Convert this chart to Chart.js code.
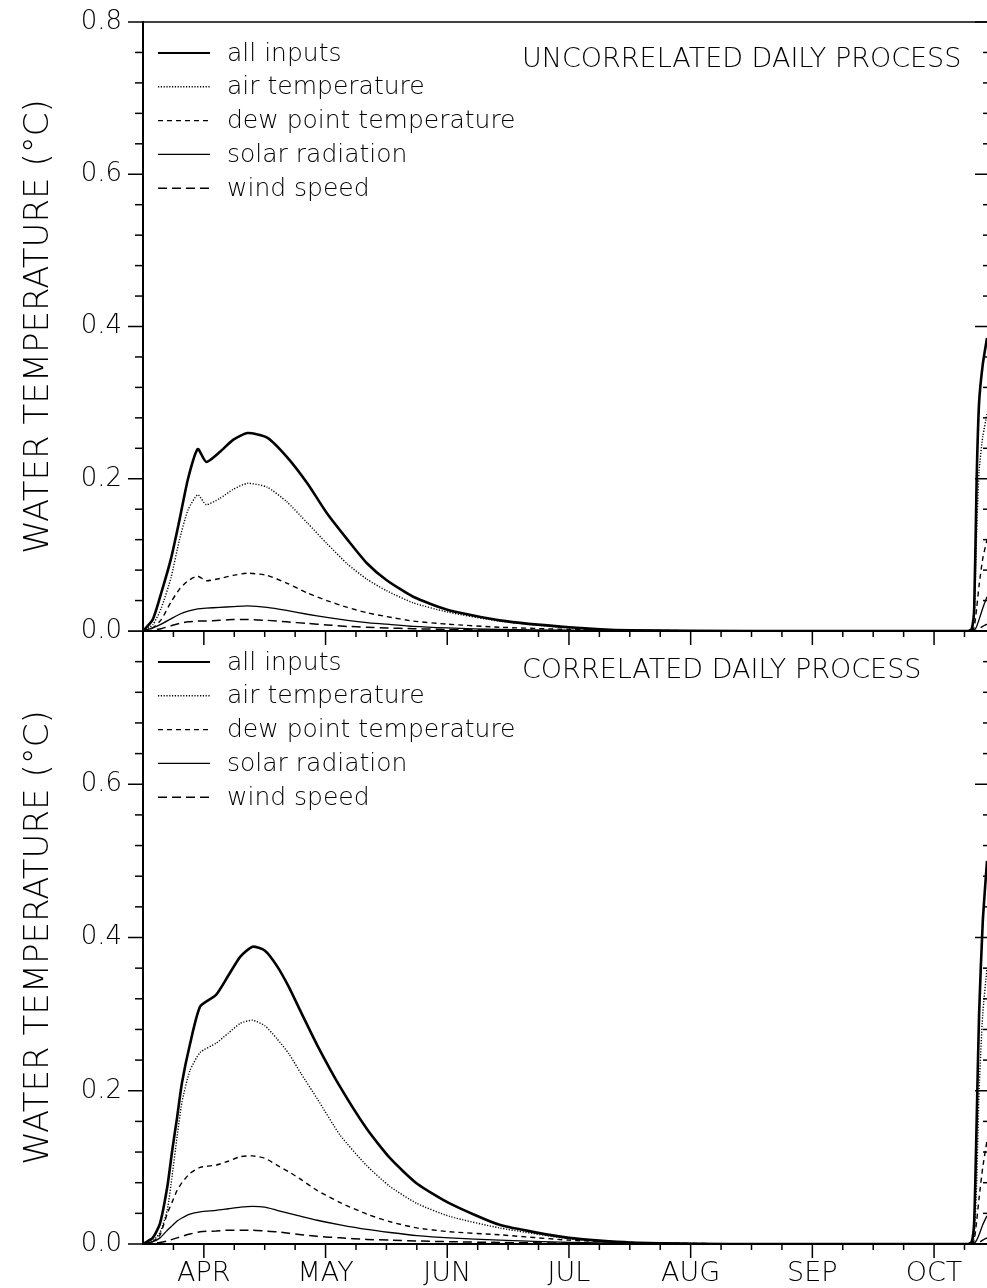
<!DOCTYPE html>
<html>
<head>
<meta charset="utf-8">
<script src="https://cdn.jsdelivr.net/npm/chart.js@4.4.1/dist/chart.umd.min.js"></script>
<style>
html, body { margin: 0; padding: 0; background: #fff; overflow: hidden; }
#wrap { position: relative; width: 987px; height: 1288px; }
.panel { position: absolute; left: 0; width: 987px; }
#top { top: 0; height: 660px; }
#bot { top: 631px; height: 657px; }
</style>
</head>
<body>
<div id="wrap">
  <div class="panel" id="top"><canvas id="chartTop"></canvas></div>
  <div class="panel" id="bot"><canvas id="chartBot"></canvas></div>
</div>
<script>
// x is in months, 0 = APR tick
const monthLabels = ['APR', 'MAY', 'JUN', 'JUL', 'AUG', 'SEP', 'OCT'];
const monthPos = [0, 1, 2, 3, 4, 5, 6];
const yTicksTop = [0, 0.2, 0.4, 0.6, 0.8];
const yTicksBot = [0, 0.2, 0.4, 0.6];
const seriesNames = ['all inputs', 'air temperature', 'dew point temperature', 'solar radiation', 'wind speed'];

// uncorrelated daily process
const xUncorr = [-0.5, -0.42, -0.35, -0.27, -0.2, -0.13, -0.05, 0.02, 0.13, 0.24, 0.36, 0.52, 0.68, 0.85, 1.01, 1.18, 1.34, 1.5, 1.72, 2.0, 2.43, 3.0, 3.5, 4.5, 5.5, 6.28, 6.31, 6.33, 6.35, 6.37, 6.40, 6.435];
const uncAll = [0, 0.015, 0.05, 0.095, 0.146, 0.20, 0.239, 0.222, 0.235, 0.251, 0.260, 0.254, 0.229, 0.194, 0.155, 0.120, 0.089, 0.067, 0.045, 0.028, 0.014, 0.005, 0.001, 0, 0, 0, 0.003, 0.03, 0.20, 0.30, 0.35, 0.385];
const uncAir = [0, 0.008, 0.03, 0.07, 0.12, 0.159, 0.179, 0.166, 0.174, 0.186, 0.194, 0.189, 0.170, 0.142, 0.115, 0.088, 0.068, 0.053, 0.037, 0.025, 0.013, 0.004, 0.001, 0, 0, 0, 0.001, 0.02, 0.13, 0.21, 0.255, 0.285];
const uncDew = [0, 0.004, 0.015, 0.038, 0.055, 0.066, 0.072, 0.066, 0.069, 0.073, 0.076, 0.073, 0.063, 0.050, 0.040, 0.031, 0.024, 0.019, 0.013, 0.009, 0.005, 0.002, 0.001, 0, 0, 0, 0, 0.005, 0.03, 0.06, 0.095, 0.12];
const uncSolar = [0, 0.004, 0.009, 0.016, 0.022, 0.026, 0.029, 0.030, 0.031, 0.032, 0.033, 0.031, 0.027, 0.022, 0.018, 0.014, 0.011, 0.009, 0.006, 0.004, 0.002, 0.001, 0, 0, 0, 0, 0, 0.001, 0.006, 0.015, 0.03, 0.045];
const uncWind = [0, 0.001, 0.003, 0.007, 0.010, 0.012, 0.013, 0.013, 0.014, 0.015, 0.015, 0.014, 0.012, 0.010, 0.008, 0.006, 0.005, 0.004, 0.003, 0.002, 0.001, 0, 0, 0, 0, 0, 0, 0, 0.001, 0.003, 0.006, 0.009];

// correlated daily process
const xCorr = [-0.5, -0.42, -0.36, -0.3, -0.26, -0.22, -0.18, -0.115, -0.03, 0.1, 0.2, 0.3, 0.4, 0.5, 0.6, 0.7, 0.8, 0.93, 1.12, 1.34, 1.53, 1.75, 2.02, 2.43, 3.0, 3.5, 4.5, 5.5, 6.28, 6.31, 6.33, 6.35, 6.37, 6.40, 6.435];
const corAll = [0, 0.008, 0.027, 0.075, 0.122, 0.165, 0.21, 0.26, 0.31, 0.325, 0.35, 0.375, 0.388, 0.383, 0.363, 0.335, 0.302, 0.26, 0.205, 0.15, 0.112, 0.079, 0.053, 0.025, 0.008, 0.002, 0, 0, 0, 0.003, 0.03, 0.16, 0.30, 0.42, 0.50];
const corAir = [0, 0.004, 0.015, 0.045, 0.09, 0.14, 0.185, 0.226, 0.25, 0.262, 0.275, 0.288, 0.292, 0.285, 0.268, 0.248, 0.222, 0.19, 0.142, 0.102, 0.075, 0.053, 0.036, 0.021, 0.007, 0.002, 0, 0, 0, 0.001, 0.01, 0.08, 0.20, 0.30, 0.36];
const corDew = [0, 0.003, 0.012, 0.04, 0.055, 0.07, 0.08, 0.092, 0.10, 0.103, 0.108, 0.114, 0.115, 0.112, 0.103, 0.094, 0.084, 0.07, 0.054, 0.039, 0.029, 0.021, 0.016, 0.012, 0.005, 0.002, 0, 0, 0, 0, 0.005, 0.03, 0.06, 0.10, 0.135];
const corSolar = [0, 0.003, 0.008, 0.018, 0.024, 0.03, 0.034, 0.039, 0.042, 0.044, 0.046, 0.048, 0.049, 0.048, 0.044, 0.040, 0.036, 0.031, 0.025, 0.019, 0.015, 0.011, 0.008, 0.005, 0.002, 0.001, 0, 0, 0, 0, 0.001, 0.005, 0.012, 0.025, 0.037];
const corWind = [0, 0.001, 0.002, 0.004, 0.006, 0.008, 0.010, 0.013, 0.016, 0.017, 0.018, 0.018, 0.018, 0.017, 0.016, 0.014, 0.012, 0.010, 0.008, 0.006, 0.005, 0.004, 0.003, 0.002, 0.001, 0, 0, 0, 0, 0, 0, 0, 0.002, 0.005, 0.008];

const lineStyles = [
    { borderWidth: 2.6, borderDash: [] },
    { borderWidth: 1.4, borderDash: [1.2, 1.6] },
    { borderWidth: 1.4, borderDash: [5, 4] },
    { borderWidth: 1.3, borderDash: [] },
    { borderWidth: 1.5, borderDash: [9, 5] }
];

Chart.defaults.font.family = '"DejaVu Sans", sans-serif';
Chart.defaults.font.weight = 200;
Chart.defaults.color = '#000';

function line(ctx, x1, y1, x2, y2, w) {
    ctx.lineWidth = w; ctx.beginPath(); ctx.moveTo(x1, y1); ctx.lineTo(x2, y2); ctx.stroke();
}

// axes frame, minor ticks, legend and panel title
const framePlugin = {
    id: 'frame',
    afterDraw(chart, args, o) {
        const { ctx, chartArea: a, scales: { x, y } } = chart;
        ctx.save();
        ctx.strokeStyle = '#000'; ctx.setLineDash([]);
        if (o.topBorder) line(ctx, a.left, a.top, a.right, a.top, 1.5);
        for (let k = 0; k <= 20; k++) {
            const py = y.getPixelForValue(k * 0.04), major = k % 5 === 0;
            line(ctx, a.left - (major ? 15 : 8), py, a.left, py, 1.5);
            line(ctx, a.right - (major ? 12 : 4), py, a.right, py, 1.5);
        }
        for (let k = -1; k / 4 <= x.max; k++) {
            const px = x.getPixelForValue(k / 4), major = k % 4 === 0;
            line(ctx, px, a.bottom, px, a.bottom + (major ? 14 : 6), 1.5);
        }
        ctx.font = '200 25px "DejaVu Sans"'; ctx.fillStyle = '#000'; ctx.textBaseline = 'middle';
        chart.data.datasets.forEach((ds, i) => {
            const ly = a.top + 31 + i * 33.8;
            ctx.setLineDash(ds.borderDash);
            line(ctx, a.left + 15, ly, a.left + 67, ly, Math.min(ds.borderWidth, 2));
            ctx.setLineDash([]);
            ctx.fillText(ds.label, a.left + 84, ly + 1);
        });
        ctx.font = '200 27px "DejaVu Sans"';
        ctx.fillText(o.title, 522, a.top + o.titleDy);
        ctx.restore();
    }
};

function buildChart(id, xs, series, cfg) {
    const datasets = series.map((ys, i) => ({
        label: seriesNames[i],
        data: xs.map((xv, j) => ({ x: xv, y: ys[j] })),
        borderColor: '#000', pointRadius: 0, tension: 0.2, fill: false,
        ...lineStyles[i]
    }));
    return new Chart(document.getElementById(id), {
        type: 'line',
        data: { datasets },
        plugins: [framePlugin],
        options: {
            responsive: true, maintainAspectRatio: false, animation: false,
            layout: { padding: { top: cfg.padTop, left: 0, right: 0, bottom: 0 } },
            plugins: {
                legend: { display: false }, tooltip: { enabled: false },
                frame: { topBorder: cfg.topBorder, title: cfg.title, titleDy: cfg.titleDy }
            },
            scales: {
                x: {
                    type: 'linear', min: -0.5, max: 6.435,
                    grid: { display: false, drawTicks: false },
                    border: { display: true, color: '#000', width: 2 },
                    afterBuildTicks: s => { s.ticks = monthPos.map(v => ({ value: v })); },
                    ticks: { autoSkip: false, maxRotation: 0, padding: 14, font: { size: 27 },
                        callback: v => cfg.showMonths ? monthLabels[monthPos.indexOf(v)] : '' },
                    afterFit: s => { s.height = cfg.xHeight; s.paddingLeft = 0; s.paddingRight = 0; }
                },
                y: {
                    min: 0, max: 0.8,
                    grid: { display: false, drawTicks: false },
                    border: { display: true, color: '#000', width: 2 },
                    afterBuildTicks: s => { s.ticks = cfg.yTicks.map(v => ({ value: v })); },
                    ticks: { padding: 21, font: { size: 26 }, callback: v => v.toFixed(1) },
                    title: { display: true, text: 'WATER TEMPERATURE (°C)', font: { size: 34 }, padding: { top: 19, bottom: 0 } },
                    afterFit: s => { s.width = 143; s.paddingTop = 0; s.paddingBottom = 0; }
                }
            }
        }
    });
}

buildChart('chartTop', xUncorr, [uncAll, uncAir, uncDew, uncSolar, uncWind],
    { padTop: 22, topBorder: true, title: 'UNCORRELATED DAILY PROCESS', titleDy: 38, showMonths: false, xHeight: 29, yTicks: yTicksTop });
buildChart('chartBot', xCorr, [corAll, corAir, corDew, corSolar, corWind],
    { padTop: 0, topBorder: false, title: 'CORRELATED DAILY PROCESS', titleDy: 40, showMonths: true, xHeight: 44, yTicks: yTicksBot });
</script>
</body>
</html>
